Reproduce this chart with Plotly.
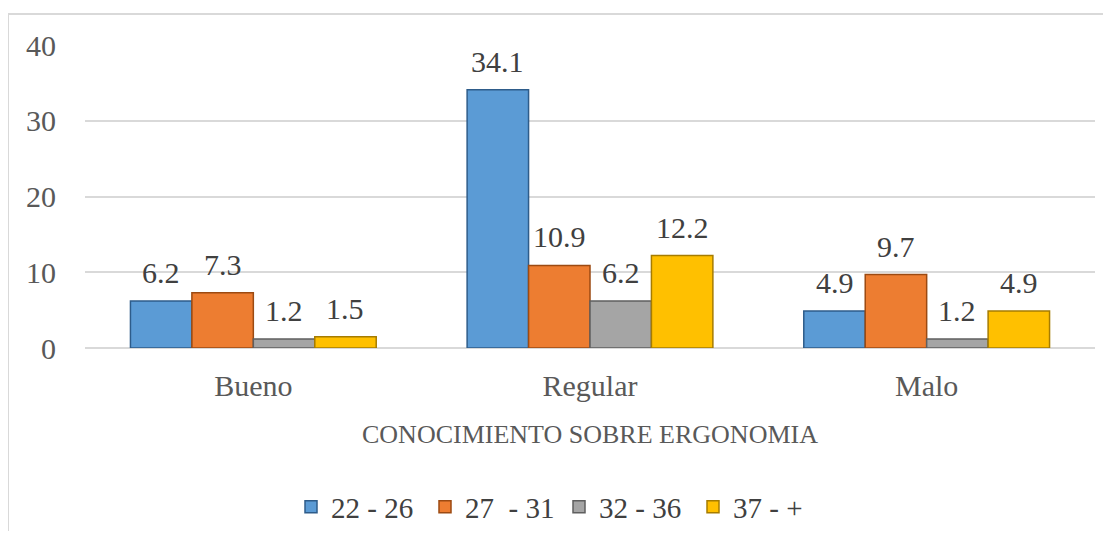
import plotly.graph_objects as go

categories = ["Bueno", "Regular", "Malo"]
series_names = ["22 - 26", "27  - 31", "32 - 36", "37 - +"]
v_22_26 = [6.2, 34.1, 4.9]
v_27_31 = [7.3, 10.9, 9.7]
v_32_36 = [1.2, 6.2, 1.2]
v_37_up = [1.5, 12.2, 4.9]
y_ticks = [0, 10, 20, 30, 40]

values = [v_22_26, v_27_31, v_32_36, v_37_up]
colors = ["#5B9BD5", "#ED7D31", "#A5A5A5", "#FFC000"]
edges = ["#2E5C8A", "#9C4A12", "#5F5F5F", "#A67C00"]

FONT = "Liberation Serif"

# page body has an 8px margin; the figure is sized/positioned to compensate
W, H = 1095, 523
L, R, T, B = 77, 8, 37, 183
pw, ph = W - L - R, H - T - B
BARGAP = 0.27

fig = go.Figure()
for name, vals, c, e in zip(series_names, values, colors, edges):
    fig.add_trace(go.Bar(
        x=categories, y=vals, name=name,
        marker=dict(color=c, line=dict(color=e, width=1.5)),
    ))

# value labels placed above each bar
cat_px = pw / len(categories)
bar_px = cat_px * (1 - BARGAP) / len(values)
annotations = []
for i, vals in enumerate(values):
    off = (i - (len(values) - 1) / 2) * bar_px
    for cat, v in zip(categories, vals):
        annotations.append(dict(
            x=cat, y=v, xref="x", yref="y", text=f"{v:.1f}", showarrow=False,
            xanchor="center", yanchor="bottom", xshift=off, yshift=10,
            font=dict(family=FONT, size=30, color="#404040")))

annotations.append(dict(
    text="CONOCIMIENTO SOBRE ERGONOMIA", xref="paper", yref="paper",
    x=0.5, y=-(426 - (H - B)) / ph, xanchor="center", yanchor="middle",
    showarrow=False, font=dict(family=FONT, size=26, color="#595959")))

fig.update_layout(
    width=W, height=H,
    margin=dict(l=L, r=R, t=T, b=B, autoexpand=False),
    paper_bgcolor="white", plot_bgcolor="white",
    barmode="group", bargap=BARGAP, bargroupgap=0,
    font=dict(family=FONT, color="#595959"),
    showlegend=True,
    legend=dict(orientation="h", xref="container", yref="container",
                x=(559 - 8) / W, xanchor="center",
                y=1 - 499 / H, yanchor="middle",
                entrywidth=89, entrywidthmode="pixels",
                font=dict(family=FONT, size=29, color="#404040"),
                traceorder="normal"),
    xaxis=dict(showgrid=False, showline=False, ticks="",
               tickfont=dict(family=FONT, size=30, color="#595959"),
               ticklabelstandoff=17),
    yaxis=dict(range=[0, 40], tickvals=y_ticks, showgrid=True,
               gridcolor="#D9D9D9", gridwidth=1.5, zeroline=True,
               zerolinecolor="#D9D9D9", zerolinewidth=1.5, showline=False,
               tickfont=dict(family=FONT, size=30, color="#595959"),
               ticklabelstandoff=28),
    annotations=annotations,
    shapes=[dict(type="rect", xref="paper", yref="paper",
                 x0=(0 - L) / pw, x1=(1130 - L) / pw,
                 y0=-(560 - (H - B)) / ph, y1=((H - B) - 6) / ph,
                 line=dict(color="#D9D9D9", width=2), layer="below")],
)

fig.write_html("out.html")
